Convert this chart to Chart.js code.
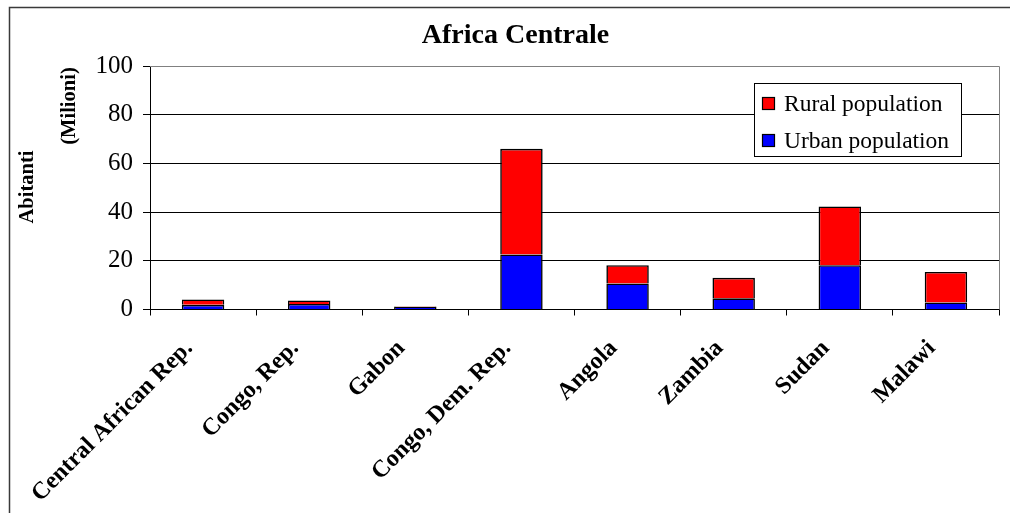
<!DOCTYPE html>
<html>
<head>
<meta charset="utf-8">
<title>Africa Centrale</title>
<script src="https://cdn.jsdelivr.net/npm/chart.js@4/dist/chart.umd.min.js"></script>
<style>
  html, body { margin: 0; padding: 0; background: #fff; }
  #wrap { width: 1010px; height: 513px; }
</style>
</head>
<body>
<div id="wrap"><canvas id="chart" width="1010" height="513"></canvas></div>
<script>
// Population by country, millions
const countries = ["Central African Rep.", "Congo, Rep.", "Gabon", "Congo, Dem. Rep.", "Angola", "Zambia", "Sudan", "Malawi"];
const urbanPopulation = [1.9, 2.3, 1.0, 22.6, 10.7, 4.6, 18.2, 2.9];
const ruralPopulation = [2.2, 1.4, 0.2, 43.4, 7.5, 8.4, 24.1, 12.5];
const yTicks = [0, 20, 40, 60, 80, 100];

const SERIF = "'Liberation Serif', 'Times New Roman', serif";

// Outer frame, plot frame, axis titles and an in-plot legend
const decorations = {
  id: 'decorations',
  beforeDatasetsDraw(chart) {
    const { ctx, chartArea: a } = chart;
    ctx.save();
    ctx.strokeStyle = '#808080';
    ctx.lineWidth = 1;
    ctx.beginPath();
    ctx.moveTo(a.left, Math.round(a.top) + 0.5);
    ctx.lineTo(Math.round(a.right) + 0.5, Math.round(a.top) + 0.5);
    ctx.lineTo(Math.round(a.right) + 0.5, a.bottom);
    ctx.stroke();
    ctx.restore();
  },
  afterDraw(chart) {
    const { ctx } = chart;
    ctx.save();
    // outer frame (right and bottom edges fall outside the canvas)
    ctx.strokeStyle = '#3a3a3a';
    ctx.lineWidth = 1.5;
    ctx.strokeRect(9.5, 7.5, 1010, 520);

    // y axis titles
    ctx.fillStyle = '#000';
    ctx.font = "bold 20.5px " + SERIF;
    ctx.textAlign = 'center';
    ctx.textBaseline = 'alphabetic';
    ctx.save();
    ctx.translate(33, 187);
    ctx.rotate(-Math.PI / 2);
    ctx.fillText('Abitanti', 0, 0);
    ctx.restore();
    ctx.save();
    ctx.translate(75, 106);
    ctx.rotate(-Math.PI / 2);
    ctx.fillText('(Milioni)', 0, 0);
    ctx.restore();

    // legend: rural first, then urban
    const bx = 754.5, by = 83.5, bw = 207, bh = 73;
    ctx.fillStyle = '#fff';
    ctx.fillRect(bx, by, bw, bh);
    ctx.strokeStyle = '#000';
    ctx.lineWidth = 1;
    ctx.strokeRect(bx, by, bw, bh);
    const items = [chart.data.datasets[1], chart.data.datasets[0]];
    const rowsY = [104, 141];
    ctx.font = "23.5px " + SERIF;
    ctx.textAlign = 'left';
    ctx.textBaseline = 'middle';
    items.forEach((ds, i) => {
      const cy = rowsY[i];
      ctx.fillStyle = ds.backgroundColor;
      ctx.fillRect(762.5, cy - 6.5, 12, 12);
      ctx.strokeStyle = '#000';
      ctx.lineWidth = 1.2;
      ctx.strokeRect(762.5, cy - 6.5, 12, 12);
      ctx.fillStyle = '#000';
      ctx.fillText(ds.label, 784, cy + 1);
    });
    ctx.restore();
  }
};

new Chart(document.getElementById('chart'), {
  type: 'bar',
  data: {
    labels: countries,
    datasets: [
      {
        label: 'Urban population',
        data: urbanPopulation,
        backgroundColor: '#0000FF',
        borderColor: '#000',
        borderWidth: 1.6,
        borderSkipped: 'start'
      },
      {
        label: 'Rural population',
        data: ruralPopulation,
        backgroundColor: '#FF0000',
        borderColor: '#000',
        borderWidth: 1.6,
        borderSkipped: 'start'
      }
    ]
  },
  options: {
    responsive: false,
    animation: false,
    devicePixelRatio: 1,
    layout: { padding: { left: 32, right: 11, top: 0, bottom: 0 } },
    datasets: { bar: { barPercentage: 0.4, categoryPercentage: 1.0 } },
    plugins: {
      legend: { display: false },
      tooltip: { enabled: false },
      title: {
        display: true,
        text: 'Africa Centrale',
        color: '#000',
        font: { family: SERIF, size: 28, weight: 'bold', lineHeight: 1.2 },
        padding: { top: 19, bottom: 13.4 }
      }
    },
    scales: {
      x: {
        stacked: true,
        grid: {
          offset: true,
          drawOnChartArea: false,
          color: '#000',
          tickLength: 6
        },
        border: { color: '#000', width: 1 },
        ticks: {
          autoSkip: false,
          maxRotation: 45,
          minRotation: 45,
          color: '#000',
          padding: 19,
          labelOffset: -14,
          font: { family: SERIF, size: 24, weight: 'bold' }
        },
        afterFit(scale) {
          scale.height = 203.5;
          scale.paddingLeft = 0;
          scale.paddingRight = 0;
        }
      },
      y: {
        stacked: true,
        min: 0,
        max: 100,
        afterBuildTicks(scale) {
          scale.ticks = yTicks.map(v => ({ value: v }));
        },
        grid: {
          color: ctx => (ctx.tick && ctx.tick.value === 100 ? '#808080' : '#000'),
          lineWidth: 1,
          tickLength: 7,
          tickColor: '#000'
        },
        border: { color: '#000', width: 1 },
        ticks: {
          color: '#000',
          padding: 10,
          font: { family: SERIF, size: 25 }
        },
        afterFit(scale) {
          scale.width = 118;
          scale.paddingTop = 0;
          scale.paddingBottom = 0;
        }
      }
    }
  },
  plugins: [decorations]
});
</script>
</body>
</html>
